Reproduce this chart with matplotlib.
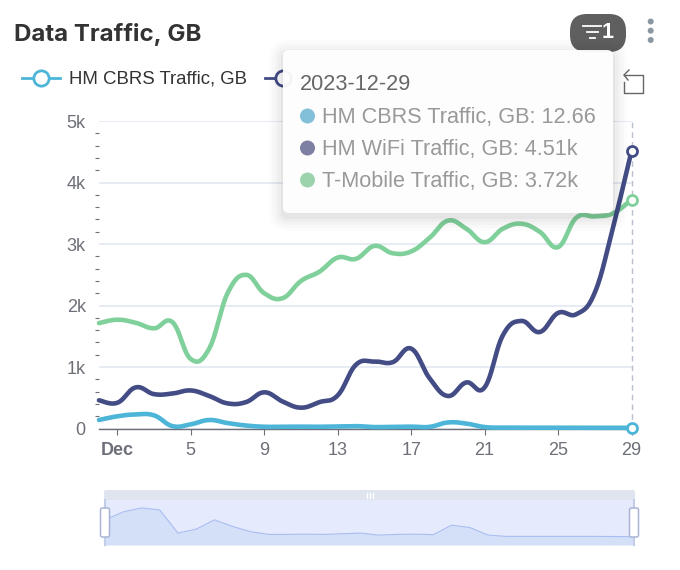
import numpy as np
import matplotlib
matplotlib.use('Agg')
import matplotlib.pyplot as plt
from matplotlib.patches import FancyBboxPatch, Circle, Rectangle
from matplotlib.ticker import MultipleLocator

plt.rcParams['font.family'] = ['Liberation Sans', 'DejaVu Sans']

days = list(range(30))  # Nov 30 .. Dec 29
x_tick_days = [1, 5, 9, 13, 17, 21, 25, 29]
x_tick_labels = ['Dec', '5', '9', '13', '17', '21', '25', '29']
y_ticks = [0, 1000, 2000, 3000, 4000, 5000]
y_tick_labels = ['0', '1k', '2k', '3k', '4k', '5k']

cbrs = [140, 200, 230, 215, 40, 70, 140, 90, 50, 30, 30, 32, 30, 35, 40, 25, 30, 32,
        28, 100, 82, 25, 15, 15, 15, 15, 15, 15, 14, 12.66]
wifi = [460, 420, 670, 560, 570, 620, 530, 410, 430, 590, 440, 340, 430, 540, 1040,
        1090, 1080, 1300, 820, 530, 750, 670, 1520, 1750, 1570, 1880, 1860, 2210, 3280, 4510]
tmobile = [1715, 1770, 1720, 1630, 1730, 1130, 1300, 2200, 2500, 2200, 2120, 2400, 2550,
           2780, 2760, 2970, 2850, 2880, 3100, 3380, 3250, 3030, 3250, 3330, 3200, 2950,
           3430, 3450, 3500, 3720]

names = ['HM CBRS Traffic, GB', 'HM WiFi Traffic, GB', 'T-Mobile Traffic, GB']
readouts = ['12.66', '4.51k', '3.72k']
line_colors = ['#4cb5d8', '#434c85', '#7fd09a']
dot_colors = ['#82bfd8', '#7d80a3', '#9dd3ac']
date_label = '2023-12-29'
title = 'Data Traffic, GB'

W, H = 680, 570
GRAY = '#6e7079'


def smooth(xs, ys, n=24, k=0.2):
    xs = np.asarray(xs, float)
    ys = np.asarray(ys, float)
    ox, oy = [], []
    for i in range(len(xs) - 1):
        p0 = max(i - 1, 0)
        p3 = min(i + 2, len(xs) - 1)
        c1y = ys[i] + k * (ys[i + 1] - ys[p0])
        c2y = ys[i + 1] - k * (ys[p3] - ys[i])
        c1x = xs[i] + k * (xs[i + 1] - xs[p0])
        c2x = xs[i + 1] - k * (xs[p3] - xs[i])
        t = np.linspace(0, 1, n, endpoint=False)
        b = (1 - t) ** 3, 3 * (1 - t) ** 2 * t, 3 * (1 - t) * t ** 2, t ** 3
        ox.extend(b[0] * xs[i] + b[1] * c1x + b[2] * c2x + b[3] * xs[i + 1])
        oy.extend(b[0] * ys[i] + b[1] * c1y + b[2] * c2y + b[3] * ys[i + 1])
    ox.append(xs[-1])
    oy.append(ys[-1])
    return ox, oy


def px_axes(l, t, r, b, **kw):
    return fig.add_axes([l / W, 1 - b / H, (r - l) / W, (b - t) / H], **kw)


fig = plt.figure(figsize=(W / 100, H / 100), dpi=100, facecolor='white')

# main chart
ax = px_axes(99, 121, 631.5, 428.6)
ax.set_xlim(0, 29)
ax.set_ylim(0, 5000)
for s in ['top', 'right', 'left']:
    ax.spines[s].set_visible(False)
ax.spines['bottom'].set_color(GRAY)
ax.spines['bottom'].set_linewidth(1.0)
ax.set_axisbelow(True)
ax.yaxis.grid(True, which='major', color='#e0e6f1', lw=1.1)
ax.set_yticks(y_ticks)
ax.set_yticklabels(y_tick_labels)
ax.yaxis.set_minor_locator(MultipleLocator(200))
ax.tick_params(axis='y', which='major', length=0, pad=9.5, labelsize=13, labelcolor=GRAY)
ax.tick_params(axis='y', which='minor', length=3.2, width=0.8, color=GRAY)
ax.set_xticks(x_tick_days)
ax.set_xticklabels(x_tick_labels)
ax.tick_params(axis='x', length=4.5, width=0.8, color=GRAY, pad=5.5, labelsize=13, labelcolor=GRAY)
ax.get_xticklabels()[0].set_fontweight('bold')

ax.plot([29, 29], [0, 5000], color='#b9bfcc', lw=1, dashes=(4, 3), zorder=1.5, clip_on=False)
for vals, c, z in zip([tmobile, wifi, cbrs], [line_colors[2], line_colors[1], line_colors[0]], [3, 4, 5]):
    sx, sy = smooth(days, vals)
    ax.plot(sx, sy, color=c, lw=3.3, zorder=z, solid_capstyle='round', clip_on=False)
    ax.plot([days[-1]], [vals[-1]], 'o', ms=7.2, mfc='white', mec=c, mew=2.0, zorder=z + 3, clip_on=False)

# data zoom
mini = px_axes(105, 500, 634, 545)
mini.set_xlim(0, 29)
mini.set_ylim(-50, 290)
mini.axis('off')
mini.add_patch(Rectangle((0, 0), 1, 1, transform=mini.transAxes, color='#e5ebfc', lw=0, zorder=0))
mini.fill_between(days, cbrs, -50, color='#d4dff8', lw=0, zorder=1)
mini.plot(days, cbrs, color='#a9bdf2', lw=0.8, zorder=2)

# overlay for chrome, drawn in pixel coordinates
ov = fig.add_axes([0, 0, 1, 1], facecolor='none')
ov.set_xlim(0, W)
ov.set_ylim(H, 0)
ov.axis('off')


def rbox(x0, y0, x1, y1, r, **kw):
    p = FancyBboxPatch((x0 + r, y0 + r), x1 - x0 - 2 * r, y1 - y0 - 2 * r,
                       boxstyle=f'round,pad={r},rounding_size={r}', **kw)
    ov.add_patch(p)
    return p


ov.text(14, 34, title, fontsize=17.3, fontweight='bold', color='#333333', va='center', family=['Inter', 'Liberation Sans'])

# filter pill
rbox(570, 14, 626, 52, 17, fc='#5f5f5f', ec='none', zorder=2)
for y, x0, x1 in [(25.5, 583, 601), (32, 587, 598), (38, 589.5, 595)]:
    ov.plot([x0, x1], [y, y], color='white', lw=1.3, zorder=3)
ov.text(608, 32.5, '1', color='white', fontsize=15.5, fontweight='bold', ha='center', va='center', zorder=3)
for y in [21.5, 30.7, 40]:
    ov.add_patch(Circle((650.7, y), 3, fc='#8a97a0', ec='none'))

# legend
ov.plot([22, 60], [78, 78], color=line_colors[0], lw=2)
ov.plot([41], [78], 'o', ms=11, mfc='white', mec=line_colors[0], mew=2)
ov.text(69, 79, names[0], fontsize=13.4, color='#333333', va='center')
ov.plot([265, 290], [78, 78], color=line_colors[1], lw=2)
ov.plot([283], [78], 'o', ms=11, mfc='white', mec=line_colors[1], mew=2)

# restore icon
ov.plot([624, 643, 643, 624, 624], [75, 75, 93, 93, 82], color='#666666', lw=1)
ov.plot([629, 624, 628], [70, 75, 80], color='#666666', lw=1)

# tooltip
for grow, a in [(14, .012), (11, .015), (8, .02), (5, .025), (2, .03)]:
    rbox(283 - grow, 50 - grow + 4, 613 + grow, 213 + grow + 4, 6 + grow, fc='black', alpha=a, ec='none', zorder=5)
rbox(283, 50, 613, 213, 6, fc='white', ec='none', alpha=0.95, zorder=6)
ov.text(300, 84, date_label, fontsize=15.6, color='#666666', va='center', zorder=7)
for y, name, val, dc in zip([116, 148, 180], names, readouts, dot_colors):
    ov.add_patch(Circle((307.5, y), 7.5, fc=dc, ec='none', zorder=7))
    ov.text(322, y + 1.2, f'{name}: {val}', fontsize=15.6, color='#999999', va='center', zorder=7)

# data zoom furniture
rbox(104, 490, 635, 500, 2, fc='#dfe4ef', ec='none', zorder=2)
ov.plot([105, 105], [500, 545], color='#c3cde8', lw=1.5, zorder=3)
ov.plot([634, 634], [500, 545], color='#c3cde8', lw=1.5, zorder=3)
for x in [366.5, 369.5, 372.5]:
    ov.plot([x, x], [493, 497.5], color='white', lw=1, zorder=3)
for x0 in [100.5, 629.5]:
    rbox(x0, 508, x0 + 9, 537, 2, fc='white', ec='#a9b4d6', lw=1.1, zorder=4)

fig.savefig('out.png', dpi=100)
